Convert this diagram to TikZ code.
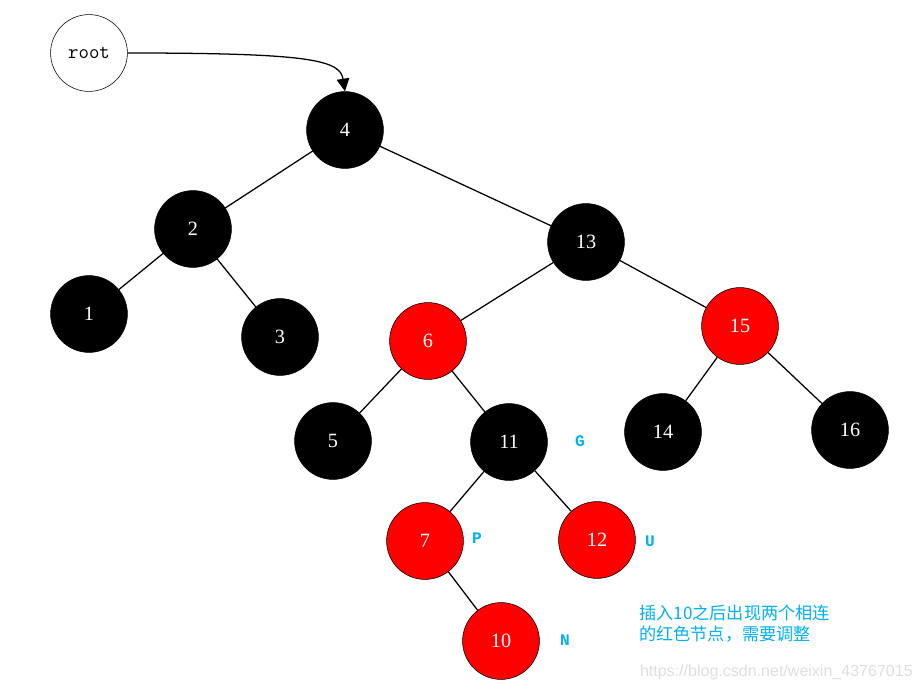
\documentclass[tikz,border=0pt]{standalone}
\usepackage{fontspec}
\setmainfont{Liberation Serif}
\newfontfamily\cjk{Noto Sans CJK SC}
\newfontfamily\monofont{Liberation Mono}
\newfontfamily\sansfont{Liberation Sans}
\usetikzlibrary{arrows.meta}
\definecolor{labelblue}{RGB}{0,176,240}
\definecolor{markgray}{RGB}{222,222,222}

\begin{document}
\begin{tikzpicture}[x=0.025cm, y=-0.025cm,
    blacknode/.style={circle, fill=black, draw=black, text=white, minimum size=1.92cm, inner sep=0pt, font=\Large},
    rednode/.style={circle, fill=red, draw=black, text=white, minimum size=1.92cm, inner sep=0pt, font=\Large},
    rootnode/.style={circle, draw=black, thin, minimum size=1.92cm, inner sep=0pt, font=\ttfamily\Large},
    tag/.style={text=labelblue, font=\monofont\bfseries\fontsize{11.5}{14}\selectfont},
    edge/.style={draw=black, line width=0.9pt}]
    \useasboundingbox (0,0) rectangle (922,690);

    \node[rootnode] (root) at (89,53) {root};
    \node[blacknode] (n4) at (345,130) {4};
    \node[blacknode] (n2) at (193,229) {2};
    \node[blacknode] (n1) at (89,314) {1};
    \node[blacknode] (n3) at (280,337) {3};
    \node[blacknode] (n13) at (586,242) {13};
    \node[rednode] (n6) at (428,341) {6};
    \node[rednode] (n15) at (740,326) {15};
    \node[blacknode] (n5) at (333,441) {5};
    \node[blacknode] (n11) at (509,442) {11};
    \node[blacknode] (n14) at (663,432) {14};
    \node[blacknode] (n16) at (850,430) {16};
    \node[rednode] (n7) at (425,541) {7};
    \node[rednode] (n12) at (597,540) {12};
    \node[rednode] (n10) at (501,641) {10};

    % G P U N
    \node[tag] (g) at (580,441) {G};
    \node[tag] (p) at (477,538) {P};
    \node[tag] (u) at (650,541) {U};
    \node[tag] (n) at (565,640) {N};

    \node[text=labelblue, font=\cjk\fontsize{12.2}{15}\selectfont, align=left, anchor=north west, inner sep=0pt] (note) at (639,605) {插入10之后出现两个相连\\的红色节点，需要调整};
    \node[text=markgray, font=\sansfont\fontsize{11.4}{13}\selectfont, anchor=east, inner sep=0pt] (mark) at (913,672) {https://blog.csdn.net/weixin\_43767015};

    \draw[line width=0.9pt, -{Triangle[length=9pt, width=9pt]}] (root.east) .. controls (310,53) and (340,60) .. (n4.north);

    \draw[edge] (n4) -- (n2);
    \draw[edge] (n4) -- (n13);
    \draw[edge] (n2) -- (n1);
    \draw[edge] (n2) -- (n3);
    \draw[edge] (n13) -- (n6);
    \draw[edge] (n13) -- (n15);
    \draw[edge] (n6) -- (n5);
    \draw[edge] (n6) -- (n11);
    \draw[edge] (n15) -- (n14);
    \draw[edge] (n15) -- (n16);
    \draw[edge] (n11) -- (n7);
    \draw[edge] (n11) -- (n12);
    \draw[edge] (n7) -- (n10);
\end{tikzpicture}
\end{document}
